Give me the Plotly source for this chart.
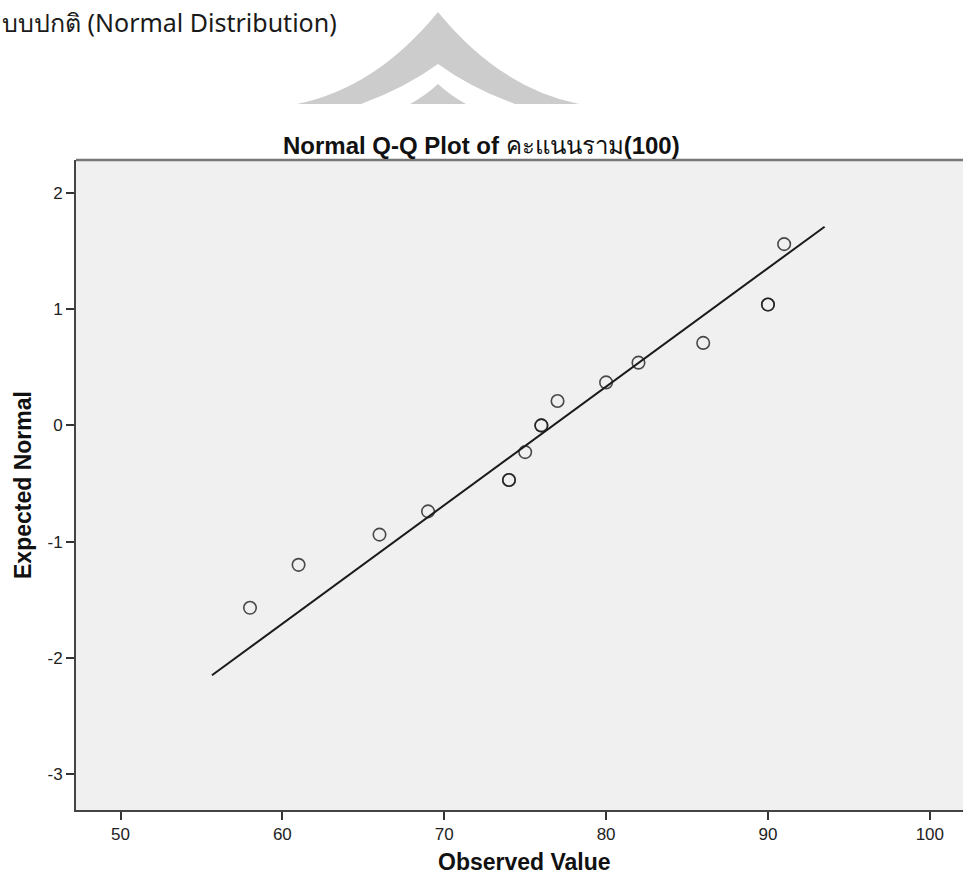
import plotly.graph_objects as go

# ---- data ----
observed = [58, 61, 66, 69, 74, 75, 76, 77, 80, 82, 86, 90, 91]
expected = [-1.57, -1.20, -0.94, -0.74, -0.47, -0.23, 0.00, 0.21, 0.37, 0.54, 0.71, 1.04, 1.56]
counts = [1, 1, 1, 1, 2, 1, 2, 1, 1, 1, 1, 2, 1]
line_x = [55.65, 93.5]
line_y = [-2.15, 1.71]
x_ticks = [50, 60, 70, 80, 90, 100]
y_ticks = [-3, -2, -1, 0, 1, 2]
y_tick_labels = ["-3", "-2", "-1", "0", "1", "2"]

W, H = 963, 880
L, R, T, B = 76, 0, 160, 70
PW, PH = W - L - R, H - T - B


def px(x, y):
    return (x - L) / PW, (H - B - y) / PH


def path(points, close=True):
    s = ""
    for i, p in enumerate(points):
        if isinstance(p, tuple) and len(p) == 2:
            X, Y = px(*p)
            s += ("M" if i == 0 else "L") + f"{X:.4f},{Y:.4f} "
        else:
            (cx, cy), (ex, ey) = p[1], p[2]
            CX, CY = px(cx, cy)
            EX, EY = px(ex, ey)
            s += f"Q{CX:.4f},{CY:.4f} {EX:.4f},{EY:.4f} "
    return s + ("Z" if close else "")


xs = [x for x, c in zip(observed, counts) for _ in range(c)]
ys = [y for y, c in zip(expected, counts) for _ in range(c)]

fig = go.Figure()
fig.add_trace(go.Scatter(x=line_x, y=line_y, mode="lines",
                         line=dict(color="#1a1a1a", width=2), hoverinfo="skip",
                         showlegend=False))
fig.add_trace(go.Scatter(x=xs, y=ys, mode="markers",
                         marker=dict(symbol="circle-open", size=12.5,
                                     color="rgba(30,30,30,0.8)",
                                     line=dict(width=1.6)),
                         showlegend=False))

grey = "#cccccc"
shapes = [
    # watermark roof (outer grey)
    dict(type="path", xref="paper", yref="paper", layer="above",
         path=path([(297, 104), ("Q", (376, 88), (438, 12)), ("Q", (500, 88), (579, 104))]),
         fillcolor=grey, line=dict(width=0)),
    # white chevron
    dict(type="path", xref="paper", yref="paper", layer="above",
         path=path([(361, 104), ("Q", (405, 88), (438, 64)), ("Q", (471, 88), (515, 104))]),
         fillcolor="white", line=dict(width=0)),
    # inner grey triangle
    dict(type="path", xref="paper", yref="paper", layer="above",
         path=path([(410, 104), ("Q", (425, 96), (438, 84)), ("Q", (451, 96), (466, 104))]),
         fillcolor=grey, line=dict(width=0)),
    # top frame line
    dict(type="line", xref="paper", yref="paper", x0=0, x1=1, y0=1, y1=1,
         line=dict(color="#777777", width=2.5)),
]

annotations = [
    dict(text="บบปกติ (Normal Distribution)", xref="paper", yref="paper",
         x=px(0, 0)[0], y=px(0, 22)[1], xanchor="left", yanchor="middle",
         showarrow=False, font=dict(family="Noto Sans, Open Sans, sans-serif", size=25, color="#1a1a1a")),
    dict(text="<b>Normal Q-Q Plot of </b>คะแนนราม<b>(100)</b>", xref="paper", yref="paper",
         x=px(481, 0)[0], y=px(0, 145)[1], xanchor="center", yanchor="middle",
         showarrow=False, font=dict(family="Liberation Sans, Arial, sans-serif", size=24, color="#111")),
    dict(text="<b>Expected Normal</b>", xref="paper", yref="paper",
         x=px(23, 0)[0], y=px(0, 485)[1], xanchor="center", yanchor="middle", textangle=-90,
         showarrow=False, font=dict(family="Liberation Sans, Arial", size=23, color="#111")),
    dict(text="<b>Observed Value</b>", xref="paper", yref="paper",
         x=px(524, 0)[0], y=px(0, 862)[1], xanchor="center", yanchor="middle",
         showarrow=False, font=dict(family="Liberation Sans, Arial", size=23, color="#111")),
]

axis_common = dict(showgrid=False, zeroline=False, ticks="outside", ticklen=8,
                   tickcolor="#333", tickwidth=1.5, showline=True, linecolor="#444",
                   linewidth=2, tickfont=dict(family="Liberation Sans, Arial",
                                              size=17, color="#222"))

fig.update_layout(
    width=W, height=H,
    margin=dict(l=L, r=R, t=T, b=B, pad=0),
    paper_bgcolor="white", plot_bgcolor="#f0f0f0",
    xaxis=dict(range=[47.25, 102.05], tickvals=x_ticks, **axis_common),
    yaxis=dict(range=[-3.31, 2.284], tickvals=y_ticks, ticktext=y_tick_labels, **axis_common),
    shapes=shapes, annotations=annotations,
)

fig.write_html("out.html", config={"displayModeBar": False},
               post_script="document.body.style.margin='0';")
